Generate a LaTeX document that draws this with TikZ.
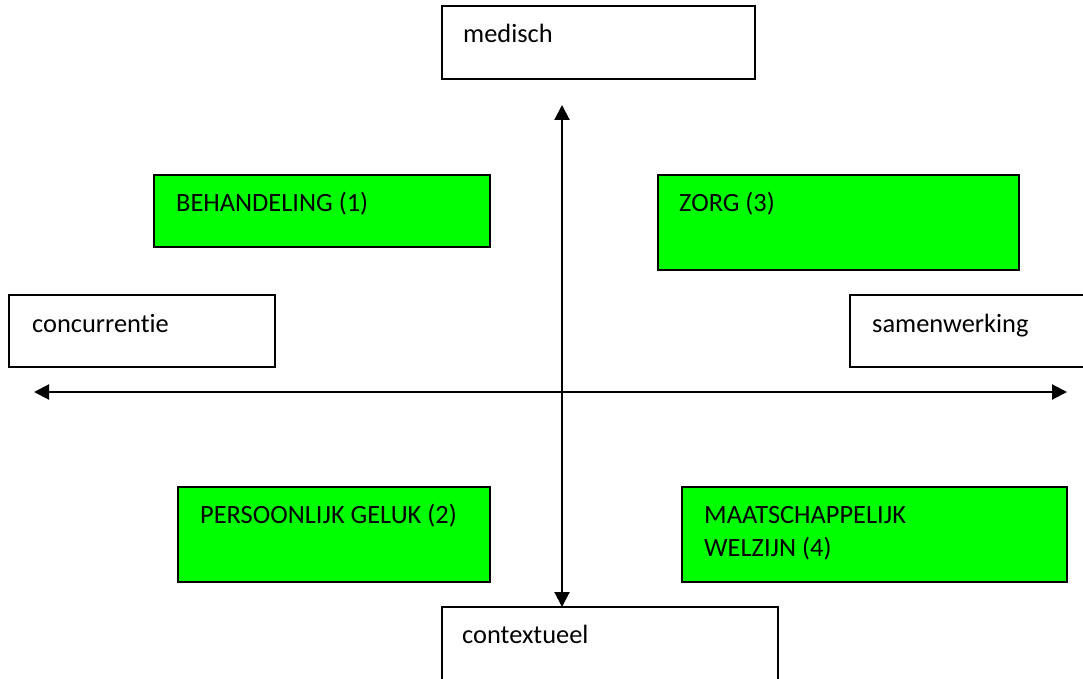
\documentclass[tikz,border=0pt]{standalone}
\usepackage{fontspec}
\setmainfont{Carlito}[Ligatures=NoCommon]
\usetikzlibrary{arrows.meta}
\begin{document}
\begin{tikzpicture}[x=1pt,y=-1pt,
  box/.style={draw=black,line width=1.6pt,fill=white},
  greenbox/.style={draw=black,line width=1.6pt,fill=green},
  lbl/.style={anchor=base west,inner sep=0pt,font=\fontsize{26.4}{33}\selectfont,align=left},
  axis/.style={line width=2pt,{Triangle[length=15pt,width=15pt]}-{Triangle[length=15pt,width=15pt]}}]
\useasboundingbox (0,0) rectangle (1083,679);
\fill[white] (0,0) rectangle (1083,679);
% axes
\coordinate (top) at (562,105);
\coordinate (bot) at (562,607);
\coordinate (left) at (34,392);
\coordinate (right) at (1067,392);
\draw[axis] (top) -- (bot);
\draw[axis] (left) -- (right);
% boxes
\draw[box] (442,6) rectangle (755,79);
\node[lbl] (med) at (463,43) {medisch};
\draw[greenbox] (154,175) rectangle (490,247);
\node[lbl] (beh) at (176,211) {BEHANDELING (1)};
\draw[greenbox] (658,175) rectangle (1019,270);
\node[lbl] (zorg) at (679,211) {ZORG (3)};
\draw[box] (9,295) rectangle (275,367);
\node[lbl] (conc) at (32,332) {concurrentie};
\draw[box] (850,295) rectangle (1095,367);
\node[lbl] (samen) at (872,332) {samenwerking};
\draw[greenbox] (178,487) rectangle (490,582);
\node[lbl] (pers) at (200,523) {PERSOONLIJK GELUK (2)};
\draw[greenbox] (682,487) rectangle (1067,582);
\node[lbl] (maat) at (704,556) {MAATSCHAPPELIJK\\WELZIJN (4)};
\draw[box] (442,607) rectangle (778,690);
\node[lbl] (ctx) at (462,643) {contextueel};
\end{tikzpicture}
\end{document}
